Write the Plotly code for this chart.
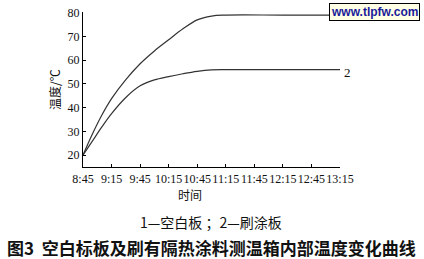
import plotly.graph_objects as go

# minutes after 8:45
t_min = [0, 10, 20, 30, 45, 60, 75, 90, 105, 120, 135, 150, 210, 270]
blank_board = [20, 29.0, 37.0, 43.8, 51.8, 58.5, 63.9, 68.6, 73.2, 77.0, 78.6, 79.0, 79.0, 79.0]
coated_board = [20, 26.0, 32.0, 37.5, 44.3, 49.2, 51.7, 53.1, 54.3, 55.3, 55.9, 56.0, 56.0, 56.0]

tick_vals = [0, 30, 60, 90, 120, 150, 180, 210, 240, 270]
tick_text = ["8:45", "9:15", "9:45", "10:15", "10:45", "11:15", "11:45", "12:15", "12:45", "13:15"]
y_ticks = [20, 30, 40, 50, 60, 70, 80]

serif = "Liberation Serif, Times New Roman, serif"
cjk = "Noto Sans CJK SC"

fig = go.Figure()
for ys in (blank_board, coated_board):
    fig.add_trace(go.Scatter(x=t_min, y=ys, mode="lines",
                             line=dict(color="#333333", width=1.2, shape="spline", smoothing=1.0),
                             showlegend=False, hoverinfo="skip"))

fig.update_layout(
    width=424, height=259,
    margin=dict(l=83, r=84, t=12, b=92),
    paper_bgcolor="white", plot_bgcolor="white",
    xaxis=dict(range=[0, 270], tickvals=tick_vals, ticktext=tick_text, tickangle=0, automargin=False,
               ticks="inside", ticklen=3, tickcolor="black", tickwidth=1,
               showline=True, linecolor="black", linewidth=1.2, showgrid=False, zeroline=False,
               tickfont=dict(family=serif, size=12, color="#111")),
    yaxis=dict(range=[15, 80.3], tickvals=y_ticks, automargin=False,
               ticks="inside", ticklen=3, tickcolor="black", tickwidth=1,
               showline=True, linecolor="black", linewidth=1.2, showgrid=False, zeroline=False,
               tickfont=dict(family=serif, size=12, color="#111")),
)

W, H, L, B = 257.0, 155.0, 83.0, 167.0


def px(xp, yp):
    return (xp - L) / W, (B - yp) / H


ann = []


def add(text, xp, yp, font, **kw):
    x, y = px(xp, yp)
    ann.append(dict(text=text, x=x, y=y, xref="paper", yref="paper", xanchor="center", yanchor="middle",
                    showarrow=False, font=font, **kw))


add("时间", 190, 194, dict(family=cjk, size=12, color="#111"))
add("温度/℃", 55, 90, dict(family=cjk, size=12, color="#111"), textangle=-90)
add("2", 347, 72, dict(family=serif, size=13, color="#111"))
add("1", 345, 16, dict(family=serif, size=13, color="#111"))
add("<b>www.tlpfw.com</b>", 374, 12, dict(family="Liberation Sans, Arial", size=12, color="#1a1a99"),
    bgcolor="#ffffe6", bordercolor="black", borderwidth=1, borderpad=1)
add("1—空白板 ；2—刷涂板", 211, 222, dict(family=cjk, size=14, color="#111"))
add("<b>图3  空白标板及刷有隔热涂料测温箱内部温度变化曲线</b>", 211, 248, dict(family=cjk, size=17, color="#111"))
fig.update_layout(annotations=ann)

fig.write_html("out.html")
